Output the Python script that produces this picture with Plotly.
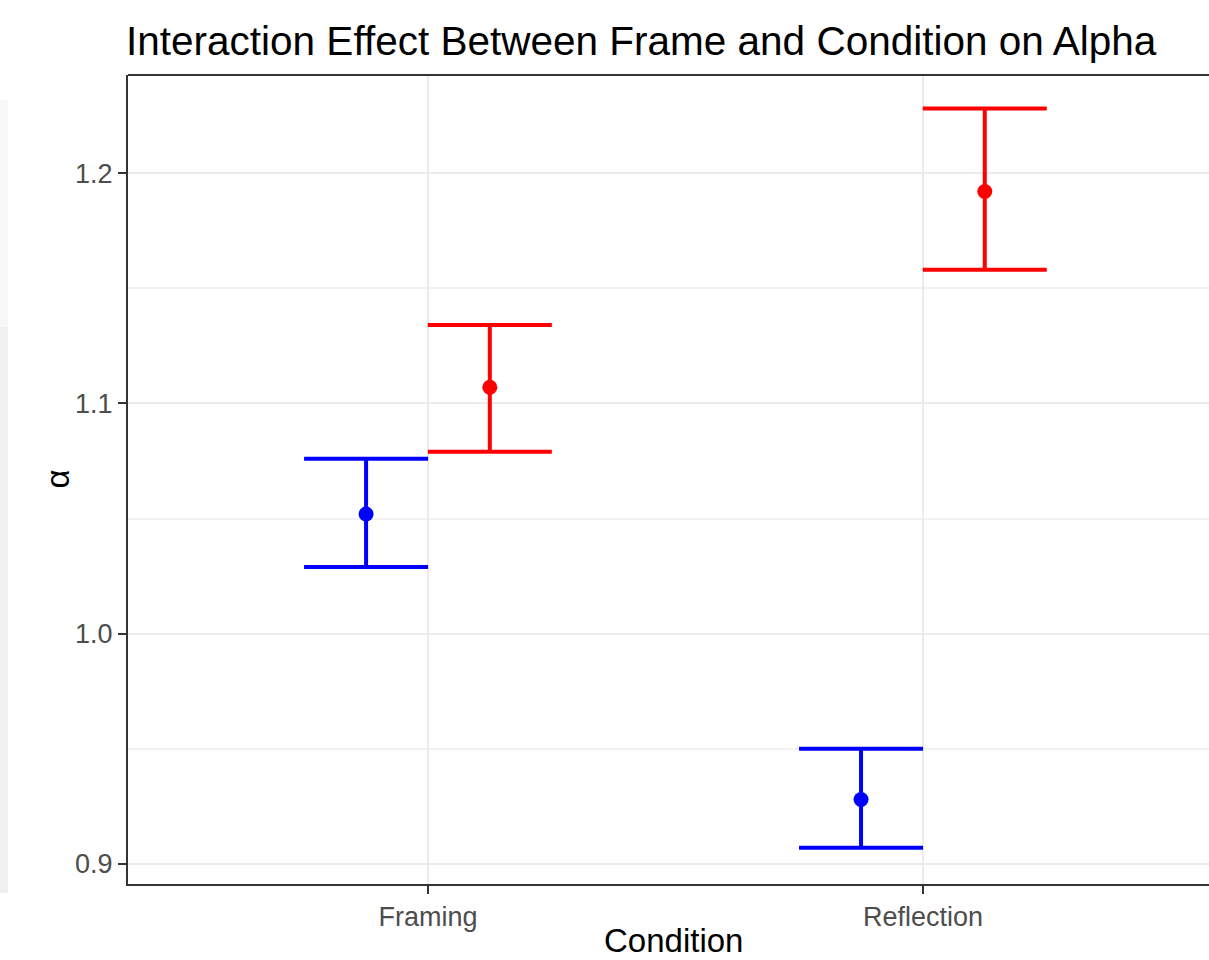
import plotly.graph_objects as go

# ---- data ----
conditions = ["Framing", "Reflection"]
frames = ["Frame 1", "Frame 2"]
colors = ["#0000FF", "#FF0000"]
means = {
    "Frame 1": [1.052, 0.928],
    "Frame 2": [1.107, 1.192],
}
upper = {
    "Frame 1": [1.076, 0.950],
    "Frame 2": [1.134, 1.228],
}
lower = {
    "Frame 1": [1.029, 0.907],
    "Frame 2": [1.079, 1.158],
}
y_ticks = [0.9, 1.0, 1.1, 1.2]
y_tick_labels = ["0.9", "1.0", "1.1", "1.2"]

dodge = [-0.125, 0.125]
FONT = "Arial, 'Liberation Sans', sans-serif"

fig = go.Figure()
for fi, fr in enumerate(frames):
    xs = [ci + 1 + dodge[fi] for ci in range(len(conditions))]
    m = means[fr]
    up = [u - v for u, v in zip(upper[fr], m)]
    lo = [v - l for v, l in zip(m, lower[fr])]
    fig.add_trace(go.Scatter(
        x=xs, y=m, mode="markers", name=fr, showlegend=False,
        marker=dict(color=colors[fi], size=15),
        error_y=dict(type="data", symmetric=False, array=up, arrayminus=lo,
                     color=colors[fi], thickness=4, width=62),
    ))

fig.update_layout(
    width=1209, height=960,
    margin=dict(l=128, r=0, t=75, b=76),
    paper_bgcolor="white", plot_bgcolor="white",
    font=dict(family=FONT),
    title=dict(text="Interaction Effect Between Frame and Condition on Alpha",
               x=126 / 1209, xanchor="left", xref="container",
               y=1 - 41 / 960, yanchor="middle", yref="container",
               font=dict(size=40.5, color="black", family=FONT)),
    xaxis=dict(range=[0.394, 2.578], tickvals=[1, 2], ticktext=conditions,
               showgrid=True, gridcolor="#EBEBEB", gridwidth=2,
               zeroline=False, showline=True, linecolor="#333333", linewidth=2,
               ticks="outside", ticklen=8, tickwidth=2, tickcolor="#333333",
               tickfont=dict(size=27, color="#4D4D4D", family=FONT)),
    yaxis=dict(range=[0.8913, 1.2426], tickvals=y_ticks, ticktext=y_tick_labels,
               showgrid=True, gridcolor="#EBEBEB", gridwidth=2,
               minor=dict(tickvals=[0.95, 1.05, 1.15], showgrid=True,
                          gridcolor="#F2F2F2", gridwidth=1.5, ticks=""),
               zeroline=False, showline=True, linecolor="#333333", linewidth=2,
               ticks="outside", ticklen=8, tickwidth=2, tickcolor="#333333",
               tickfont=dict(size=27, color="#4D4D4D", family=FONT)),
    shapes=[
        dict(type="line", xref="paper", yref="paper", x0=0, x1=1, y0=1, y1=1,
             line=dict(color="#333333", width=2)),
        dict(type="rect", xref="paper", yref="paper", x0=-128 / 1081, x1=-120 / 1081,
             y0=-9 / 809, y1=784 / 809, fillcolor="#F8F8F8", line=dict(width=0),
             layer="below"),
        dict(type="rect", xref="paper", yref="paper", x0=-128 / 1081, x1=-120 / 1081,
             y0=-9 / 809, y1=557 / 809, fillcolor="#F0F0F0", line=dict(width=0),
             layer="below"),
    ],
    annotations=[
        dict(text="Condition", xref="paper", yref="paper",
             x=(673 - 128) / 1081, y=-(940 - 884) / 809, xanchor="center", yanchor="middle",
             showarrow=False, font=dict(size=33, color="black", family=FONT)),
        dict(text="α", xref="paper", yref="paper", textangle=-90,
             x=-(128 - 57) / 1081, y=0.5, xanchor="center", yanchor="middle",
             showarrow=False, font=dict(size=33, color="black", family=FONT)),
    ],
)

fig.write_html("out.html")
